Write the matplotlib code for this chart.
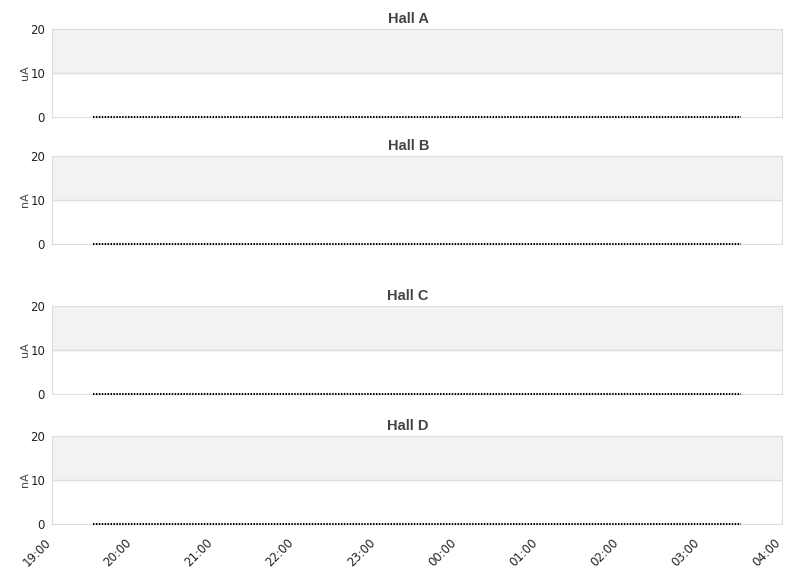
import matplotlib.pyplot as plt
import matplotlib.dates as mdates
import matplotlib.transforms as mtransforms
import pandas as pd

halls = ["Hall A", "Hall B", "Hall C", "Hall D"]
units = ["uA", "nA", "uA", "nA"]
times = ["2024-01-01 19:30", "2024-01-01 20:30", "2024-01-01 21:30", "2024-01-01 22:30",
         "2024-01-01 23:30", "2024-01-02 00:30", "2024-01-02 01:30", "2024-01-02 02:30",
         "2024-01-02 03:30"]
currents = {
    "Hall A": [0, 0, 0, 0, 0, 0, 0, 0, 0],
    "Hall B": [0, 0, 0, 0, 0, 0, 0, 0, 0],
    "Hall C": [0, 0, 0, 0, 0, 0, 0, 0, 0],
    "Hall D": [0, 0, 0, 0, 0, 0, 0, 0, 0],
}
x_start = pd.Timestamp("2024-01-01 19:00")
x_end = pd.Timestamp("2024-01-02 04:00")

t = pd.to_datetime(times)

W, H = 811, 578
fig = plt.figure(figsize=(W / 100, H / 100), dpi=100)

# panel top positions in pixels
tops = [29, 156, 306, 436]
left, right, ph = 52, 782, 88

grey = "#dddddd"
for i, hall in enumerate(halls):
    ax = fig.add_axes([left / W, 1 - (tops[i] + ph) / H, (right - left) / W, ph / H])
    ax.axhspan(10, 20, color="#f2f2f2", zorder=0)
    ax.axhline(10, color=grey, lw=1, zorder=1)
    ax.plot(t, currents[hall], color="black", ls=(0, (0.7, 0.7)), lw=1.5,
            zorder=3, clip_on=False)
    ax.set_xlim(x_start, x_end)
    ax.set_ylim(0, 20)
    ax.set_yticks([0, 10, 20])
    for s in ax.spines.values():
        s.set_color(grey)
    ax.tick_params(length=0, labelsize=8.5, colors="#222222", pad=5)
    ax.set_ylabel(units[i], fontsize=8, color="#444444", labelpad=0)
    ax.set_title(hall, fontsize=10.5, fontweight="bold", color="#444444",
                 family="Liberation Sans", pad=4, x=0.488)
    ax.xaxis.set_major_locator(mdates.HourLocator())
    ax.xaxis.set_major_formatter(mdates.DateFormatter("%H:%M"))
    if i < 3:
        ax.set_xticklabels([])
    else:
        shift = mtransforms.ScaledTranslation(-8 / 100, -5 / 100, fig.dpi_scale_trans)
        for lab in ax.get_xticklabels():
            lab.set_rotation(45)
            lab.set_ha("right")
            lab.set_rotation_mode("anchor")
            lab.set_transform(lab.get_transform() + shift)

fig.savefig("out.png", dpi=100)
